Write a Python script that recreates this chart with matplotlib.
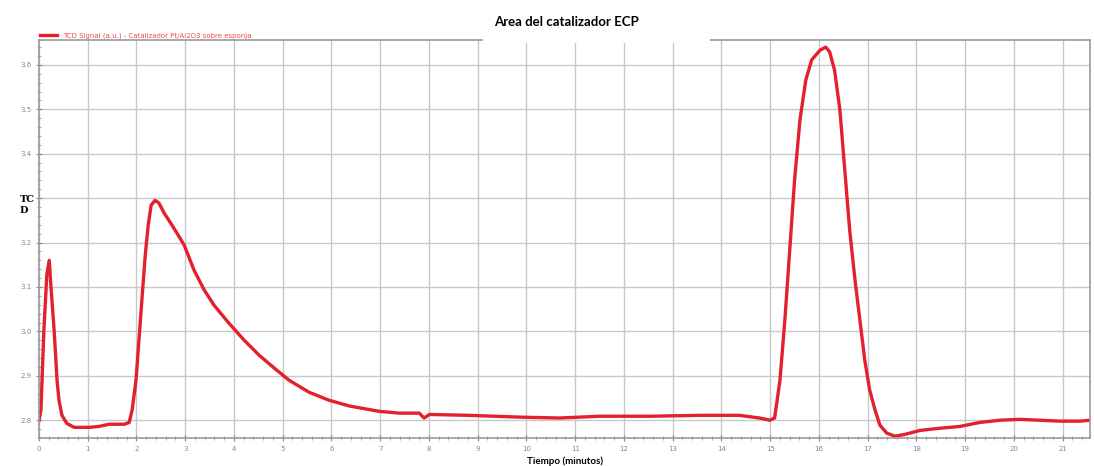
import matplotlib
matplotlib.use("Agg")
import matplotlib.pyplot as plt
from matplotlib.patches import Rectangle
from matplotlib.ticker import MultipleLocator

# Data (time in minutes, TCD signal in a.u.)
time_min = [
    0.00, 0.04, 0.10, 0.16, 0.21, 0.25, 0.31, 0.37, 0.41, 0.47, 0.57, 0.72,
    1.03, 1.23, 1.44, 1.75, 1.85, 1.91, 1.99, 2.05, 2.11, 2.18, 2.24, 2.30,
    2.38, 2.46, 2.57, 2.77, 2.98, 3.18, 3.39, 3.59, 3.90, 4.21, 4.52, 4.83,
    5.13, 5.54, 5.95, 6.37, 6.98, 7.39, 7.80, 7.90, 8.01, 8.83, 9.86, 10.68, 11.50,
    12.53, 13.55, 14.37, 14.78, 14.99, 15.09, 15.20, 15.30, 15.40, 15.50,
    15.61, 15.73, 15.85, 16.02, 16.14, 16.22, 16.32, 16.43, 16.53, 16.63,
    16.74, 16.84, 16.94, 17.04, 17.15, 17.25, 17.39, 17.56, 17.76, 18.07,
    18.48, 18.89, 19.30, 19.71, 20.12, 20.53, 20.94, 21.36, 21.56,
]
tcd_signal = [
    2.800, 2.823, 3.003, 3.127, 3.160, 3.093, 3.003, 2.890, 2.845, 2.811, 2.793, 2.784,
    2.784, 2.786, 2.791, 2.791, 2.795, 2.823, 2.890, 2.980, 3.070, 3.172, 3.239, 3.284,
    3.295, 3.289, 3.266, 3.232, 3.194, 3.138, 3.093, 3.059, 3.018, 2.980, 2.946, 2.917,
    2.890, 2.863, 2.845, 2.832, 2.820, 2.816, 2.816, 2.805, 2.813, 2.811, 2.807, 2.805, 2.809,
    2.809, 2.811, 2.811, 2.805, 2.800, 2.805, 2.890, 3.025, 3.183, 3.341, 3.476, 3.566,
    3.611, 3.633, 3.640, 3.629, 3.588, 3.498, 3.363, 3.228, 3.115, 3.025, 2.935, 2.868,
    2.823, 2.789, 2.771, 2.764, 2.768, 2.777, 2.782, 2.786, 2.795, 2.800, 2.802, 2.800,
    2.798, 2.798, 2.800,
]

x_ticks = list(range(0, 22))
y_ticks = [2.8, 2.9, 3.0, 3.1, 3.2, 3.3, 3.4, 3.5, 3.6]

line_color = "#e3202c"
grid_color = "#c8c8c8"

fig = plt.figure(figsize=(10.94, 4.66), dpi=100)
ax = fig.add_axes([39 / 1094, 28 / 466, 1051 / 1094, 398 / 466])

ax.plot(time_min, tcd_signal, color=line_color, linewidth=2.4,
        label="TCD Signal (a.u.) - Catalizador Pt/Al2O3 sobre esponja")

ax.set_xlim(0, 21.56)
ax.set_ylim(2.76, 3.656)
ax.set_xticks(x_ticks)
ax.set_yticks(y_ticks)
ax.xaxis.set_minor_locator(MultipleLocator(0.2))
ax.yaxis.set_minor_locator(MultipleLocator(0.02))
# the 3.3 label is hidden behind the "TCD" axis title in the reference
y_labels = [f"{v:.1f}" for v in y_ticks]
y_labels[5] = ""
ax.set_yticklabels(y_labels)

ax.grid(True, which="major", color=grid_color, linewidth=1.0)
ax.set_axisbelow(True)
ax.tick_params(which="major", labelsize=5, colors="#888888", length=4, direction="inout")
ax.tick_params(which="minor", colors="#999999", length=2.5, direction="inout")
for side in ["left", "bottom", "top", "right"]:
    ax.spines[side].set_color("#999999")
    ax.spines[side].set_linewidth(1.2)

# legend sits just above the plot area
ax.legend(loc="lower left", bbox_to_anchor=(-0.002, 0.995), frameon=False,
          fontsize=5, labelcolor="#ee4a5a", handlelength=2.5, borderaxespad=0)

# white patch behind the title that hides part of the top border
fig.patches.append(Rectangle((483 / 1094, 1 - 43 / 466), 227 / 1094, 43 / 466,
                             transform=fig.transFigure, facecolor="white",
                             edgecolor="none", zorder=5))

fig.text(566 / 1094, 1 - 22 / 466, "Area del catalizador ECP", ha="center", va="center",
         fontsize=9.5, fontweight="bold", family="Lato", zorder=6)
fig.text(565 / 1094, 1 - 461 / 466, "Tiempo (minutos)", ha="center", va="center",
         fontsize=7, fontweight="bold", family="Lato")
fig.text(20 / 1094, 1 - 205 / 466, "TC\nD", ha="left", va="center",
         fontsize=7, fontweight="bold", family="DejaVu Serif", linespacing=1.3)

fig.savefig("out.png", dpi=100)
